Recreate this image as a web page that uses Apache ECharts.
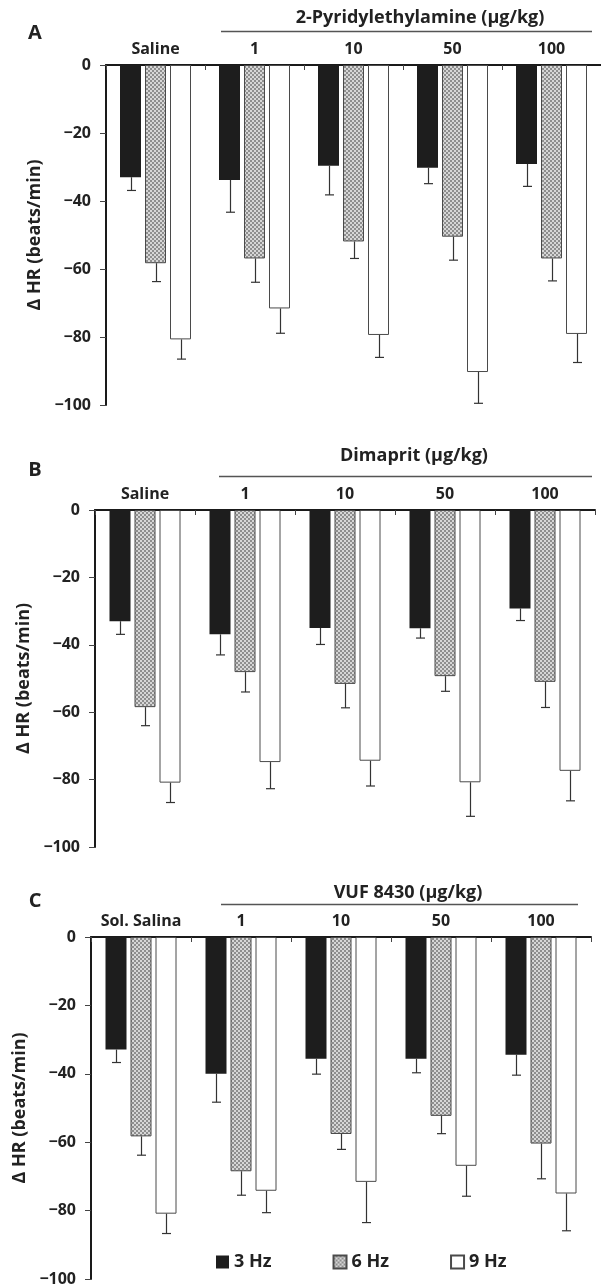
<!DOCTYPE html>
<html>
<head>
<meta charset="utf-8">
<script src="https://cdn.jsdelivr.net/npm/echarts@6/dist/echarts.min.js"></script>
<style>
html,body{margin:0;padding:0;background:#fff;}
#chart{width:601px;height:1287px;}
</style>
</head>
<body>
<div id="chart"></div>
<script>
// ---------- data ----------
const categoriesA = ['Saline', '1', '10', '50', '100'];
const categoriesB = ['Saline', '1', '10', '50', '100'];
const categoriesC = ['Sol. Salina', '1', '10', '50', '100'];
const groupTitles = ['2-Pyridylethylamine (µg/kg)', 'Dimaprit (µg/kg)', 'VUF 8430 (µg/kg)'];
const panelLetters = ['A', 'B', 'C'];
const frequencies = ['3 Hz', '6 Hz', '9 Hz'];
const yAxisName = 'Δ HR (beats/min)';
const yMin = -100, yMax = 0, yStep = 20;

// Panel A: 2-Pyridylethylamine
const a3Mean = [-33.0, -33.8, -29.6, -30.2, -29.1];
const a3Err  = [3.9, 9.5, 8.6, 4.7, 6.6];
const a6Mean = [-58.3, -56.9, -51.9, -50.5, -56.9];
const a6Err  = [5.4, 7.0, 5.0, 6.9, 6.6];
const a9Mean = [-80.7, -71.6, -79.4, -90.3, -79.1];
const a9Err  = [5.8, 7.3, 6.6, 9.2, 8.4];

// Panel B: Dimaprit
const b3Mean = [-33.0, -36.9, -35.0, -35.1, -29.2];
const b3Err  = [3.9, 6.1, 4.9, 2.9, 3.6];
const b6Mean = [-58.5, -48.1, -51.6, -49.3, -51.0];
const b6Err  = [5.5, 5.9, 7.1, 4.5, 7.6];
const b9Mean = [-80.9, -74.8, -74.4, -80.8, -77.4];
const b9Err  = [5.9, 7.9, 7.5, 10.1, 8.9];

// Panel C: VUF 8430
const c3Mean = [-32.9, -40.0, -35.6, -35.6, -34.4];
const c3Err  = [3.8, 8.3, 4.5, 4.1, 6.0];
const c6Mean = [-58.3, -68.5, -57.6, -52.3, -60.4];
const c6Err  = [5.5, 7.0, 4.5, 5.2, 10.3];
const c9Mean = [-80.9, -74.2, -71.6, -66.9, -75.0];
const c9Err  = [5.8, 6.4, 11.9, 8.9, 10.9];

// ---------- styling / layout ----------
const FONT = '"Open Sans", "DejaVu Sans", sans-serif';
const TXT = '#222';
const BAR_W = 21, BAR_GAP = 4;

const gridsLayout = [
  {left: 106, top: 65, width: 500, height: 340},
  {left: 95, top: 510, width: 500, height: 337},
  {left: 91, top: 937, width: 500, height: 343}
];

function makePattern() {
  const c = document.createElement('canvas');
  c.width = 4; c.height = 4;
  const g = c.getContext('2d');
  g.fillStyle = '#8e8e8e';
  g.fillRect(0, 0, 4, 4);
  g.fillStyle = '#d6d6d6';
  g.fillRect(0, 0, 2, 2);
  g.fillRect(2, 2, 2, 2);
  return c;
}
const pattern = {image: makePattern(), repeat: 'repeat'};

const barStyles = [
  {color: '#1d1d1d', borderColor: '#1d1d1d', borderWidth: 0},
  {color: pattern, borderColor: '#4a4a4a', borderWidth: 1},
  {color: '#ffffff', borderColor: '#4a4a4a', borderWidth: 1}
];

const panels = [
  {cats: categoriesA, means: [a3Mean, a6Mean, a9Mean], errs: [a3Err, a6Err, a9Err]},
  {cats: categoriesB, means: [b3Mean, b6Mean, b9Mean], errs: [b3Err, b6Err, b9Err]},
  {cats: categoriesC, means: [c3Mean, c6Mean, c9Mean], errs: [c3Err, c6Err, c9Err]}
];

const grid = [], xAxis = [], yAxis = [], series = [];

panels.forEach((p, gi) => {
  grid.push(Object.assign({containLabel: false}, gridsLayout[gi]));
  xAxis.push({
    type: 'category', gridIndex: gi, position: 'top', data: p.cats,
    boundaryGap: true,
    axisLine: {onZero: false, lineStyle: {color: '#1a1a1a', width: 2}},
    axisTick: {show: true, inside: true, length: 5, lineStyle: {color: '#444', width: 1}},
    axisLabel: {interval: 0, margin: 8, color: TXT, fontFamily: FONT, fontWeight: 'bold', fontSize: 16},
    splitLine: {show: false}
  });
  yAxis.push({
    type: 'value', gridIndex: gi, min: yMin, max: yMax, interval: yStep,
    name: yAxisName, nameLocation: 'middle', nameGap: 58,
    nameTextStyle: {color: TXT, fontFamily: FONT, fontWeight: 'bold', fontSize: 18},
    axisLine: {show: true, lineStyle: {color: '#1a1a1a', width: 2}},
    axisTick: {show: true, inside: false, length: 6, lineStyle: {color: '#444', width: 1}},
    axisLabel: {margin: 15, color: TXT, fontFamily: FONT, fontWeight: 'bold', fontSize: 16,
      formatter: v => v === 0 ? '0' : '\u2212' + Math.abs(v)},
    splitLine: {show: false}
  });
  p.means.forEach((m, si) => {
    series.push({
      type: 'bar', name: frequencies[si], xAxisIndex: gi, yAxisIndex: gi,
      data: m, barWidth: BAR_W, barGap: (BAR_GAP / BAR_W * 100) + '%',
      itemStyle: barStyles[si], silent: true, z: 2
    });
  });
  p.means.forEach((m, si) => {
    const off = (si - 1) * (BAR_W + BAR_GAP);
    series.push({
      type: 'custom', name: 'err' + gi + si, xAxisIndex: gi, yAxisIndex: gi,
      data: m.map((v, i) => [i, v, p.errs[si][i]]),
      encode: {x: 0, y: 1}, silent: true, z: 5,
      renderItem: (params, api) => {
        const i = api.value(0), v = api.value(1), e = api.value(2);
        const top = api.coord([i, v]);
        const bot = api.coord([i, v - e]);
        const x = Math.round(top[0] + off) + 0.5;
        const st = {stroke: '#333', lineWidth: 1.2};
        return {type: 'group', children: [
          {type: 'line', shape: {x1: x, y1: top[1], x2: x, y2: bot[1]}, style: st},
          {type: 'line', shape: {x1: x - 4.5, y1: bot[1], x2: x + 4.5, y2: bot[1]}, style: st}
        ]};
      }
    });
  });
});

const letterPos = [[35, 33], [35, 470], [35, 901]];
const titlePos = [[420, 18], [414, 456], [408, 893]];
const linePos = [[221, 31, 592], [219, 476, 592], [221, 904, 578]];

const graphic = [];
panelLetters.forEach((l, i) => {
  graphic.push({type: 'text', x: letterPos[i][0], y: letterPos[i][1],
    style: {text: l, fill: TXT, font: 'bold 20px ' + FONT, textAlign: 'center', textVerticalAlign: 'middle'}});
  graphic.push({type: 'text', x: titlePos[i][0], y: titlePos[i][1],
    style: {text: groupTitles[i], fill: TXT, font: 'bold 18px ' + FONT, textAlign: 'center', textVerticalAlign: 'middle'}});
  graphic.push({type: 'line', shape: {x1: linePos[i][0], y1: linePos[i][1] + 0.5, x2: linePos[i][2], y2: linePos[i][1] + 0.5},
    style: {stroke: '#555', lineWidth: 1.3}});
});

const chart = echarts.init(document.getElementById('chart'), null, {renderer: 'canvas'});
chart.setOption({
  animation: false,
  backgroundColor: '#fff',
  textStyle: {fontFamily: FONT},
  legend: {
    data: frequencies, left: 211, top: 1248, icon: 'rect',
    itemWidth: 13, itemHeight: 13, itemGap: 61,
    textStyle: {color: TXT, fontFamily: FONT, fontWeight: 'bold', fontSize: 18}
  },
  grid, xAxis, yAxis, series, graphic
});
</script>
</body>
</html>
